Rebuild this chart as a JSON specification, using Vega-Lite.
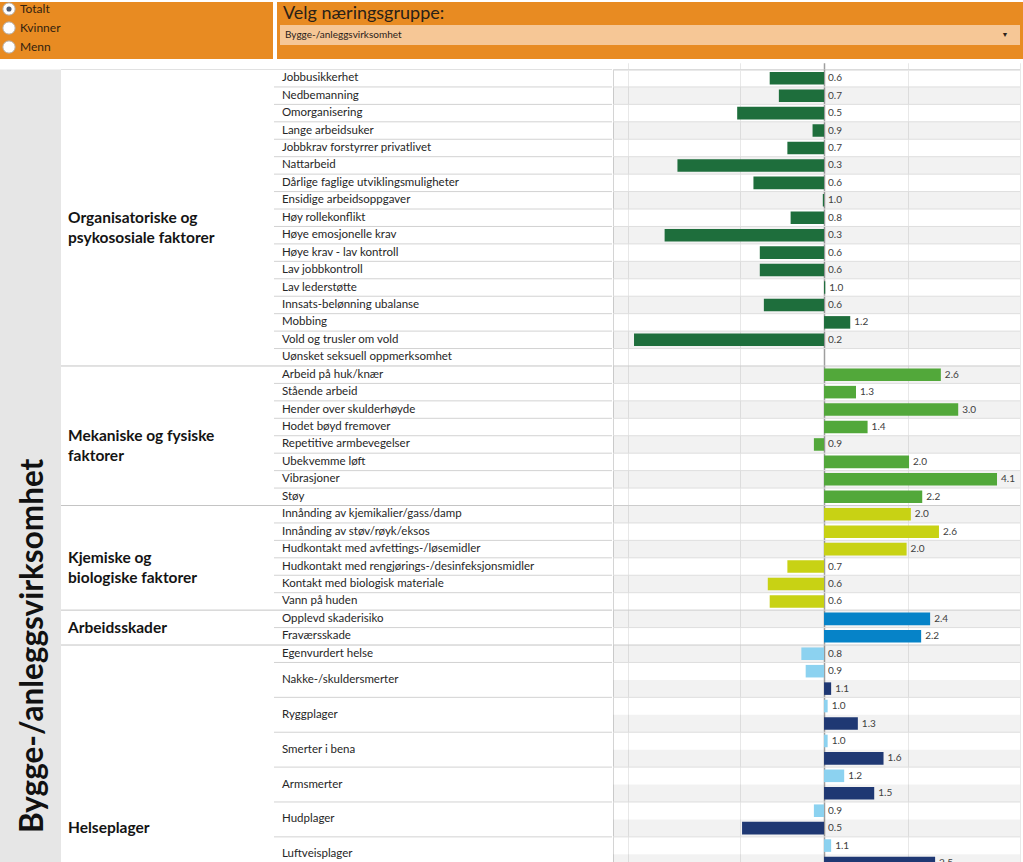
{
  "$schema": "https://vega.github.io/schema/vega-lite/v6.json",
  "padding": 0,
  "background": "#ffffff",
  "usermeta": {"embedOptions": {"actions": false}},
  "config": {"view": {"stroke": null}, "font": "Lato"},
  "spacing": 9.5,
  "vconcat": [
    {
      "spacing": 4,
      "hconcat": [
        {
          "width": 273,
          "height": 57,
          "view": {"fill": "#e88b22", "stroke": null},
          "data": {"values": [
            {"valg": "Totalt", "valgt": true},
            {"valg": "Kvinner", "valgt": false},
            {"valg": "Menn", "valgt": false}
          ]},
          "encoding": {
            "y": {"field": "valg", "type": "nominal", "sort": null, "axis": null, "scale": {"range": [-2.5, 54.5], "paddingInner": 0, "paddingOuter": 0}},
            "x": {"datum": 0, "type": "quantitative", "axis": null, "scale": {"domain": [0, 1], "range": [9, 260]}}
          },
          "layer": [
            {"mark": {"type": "point", "shape": "circle", "filled": true, "fill": "#ffffff", "stroke": "#b5b5b5", "strokeWidth": 1, "size": 150, "opacity": 1}},
            {"mark": {"type": "point", "shape": "circle", "filled": true, "fill": "#4b5a72", "size": 26, "strokeWidth": 0},
             "encoding": {"opacity": {"condition": {"test": "datum.valgt", "value": 1}, "value": 0}}},
            {"mark": {"type": "text", "align": "left", "baseline": "middle", "dx": 11, "fontSize": 12, "color": "#33220f"},
             "encoding": {"text": {"field": "valg"}}}
          ]
        },
        {
          "width": 746,
          "height": 57,
          "view": {"fill": "#e88b22", "stroke": null},
          "data": {"values": [
            {"rad": "tittel", "tekst": "Velg næringsgruppe:"},
            {"rad": "valg", "tekst": "Bygge-/anleggsvirksomhet"}
          ]},
          "encoding": {
            "y": {"field": "rad", "type": "nominal", "sort": null, "axis": null, "scale": {"range": [3, 43], "paddingInner": 0, "paddingOuter": 0}}
          },
          "layer": [
            {"mark": {"type": "rect", "fill": "#f6c796"},
             "encoding": {
               "x": {"datum": 0, "type": "quantitative", "axis": null, "scale": {"domain": [0, 1], "range": [3, 743]}},
               "x2": {"datum": 1},
               "fillOpacity": {"condition": {"test": "datum.rad == 'valg'", "value": 1}, "value": 0}
             }},
            {"mark": {"type": "text", "align": "left", "baseline": "middle", "dx": 3, "dy": -1, "fontSize": 18, "color": "#2a2118"},
             "encoding": {
               "x": {"datum": 0, "type": "quantitative"},
               "text": {"condition": {"test": "datum.rad == 'tittel'", "field": "tekst"}, "value": ""}
             }},
            {"mark": {"type": "text", "align": "left", "baseline": "middle", "dx": 5, "fontSize": 10, "color": "#2a2118"},
             "encoding": {
               "x": {"datum": 0, "type": "quantitative"},
               "text": {"condition": {"test": "datum.rad == 'valg'", "field": "tekst"}, "value": ""}
             }},
            {"mark": {"type": "text", "align": "center", "baseline": "middle", "dx": -15, "fontSize": 7, "color": "#2a2118"},
             "encoding": {
               "x": {"datum": 1, "type": "quantitative"},
               "text": {"condition": {"test": "datum.rad == 'valg'", "value": "▼"}, "value": ""}
             }}
          ]
        }
      ]
    },
    {
      "data": {"values": [
        {"gruppe": "Organisatoriske og\npsykososiale faktorer", "item": "Jobbusikkerhet", "v": 0.64},
        {"gruppe": "Organisatoriske og\npsykososiale faktorer", "item": "Nedbemanning", "v": 0.69},
        {"gruppe": "Organisatoriske og\npsykososiale faktorer", "item": "Omorganisering", "v": 0.49},
        {"gruppe": "Organisatoriske og\npsykososiale faktorer", "item": "Lange arbeidsuker", "v": 0.91},
        {"gruppe": "Organisatoriske og\npsykososiale faktorer", "item": "Jobbkrav forstyrrer privatlivet", "v": 0.74},
        {"gruppe": "Organisatoriske og\npsykososiale faktorer", "item": "Nattarbeid", "v": 0.30},
        {"gruppe": "Organisatoriske og\npsykososiale faktorer", "item": "Dårlige faglige utviklingsmuligheter", "v": 0.56},
        {"gruppe": "Organisatoriske og\npsykososiale faktorer", "item": "Ensidige arbeidsoppgaver", "v": 0.99},
        {"gruppe": "Organisatoriske og\npsykososiale faktorer", "item": "Høy rollekonflikt", "v": 0.76},
        {"gruppe": "Organisatoriske og\npsykososiale faktorer", "item": "Høye emosjonelle krav", "v": 0.27},
        {"gruppe": "Organisatoriske og\npsykososiale faktorer", "item": "Høye krav - lav kontroll", "v": 0.59},
        {"gruppe": "Organisatoriske og\npsykososiale faktorer", "item": "Lav jobbkontroll", "v": 0.59},
        {"gruppe": "Organisatoriske og\npsykososiale faktorer", "item": "Lav lederstøtte", "v": 1.01},
        {"gruppe": "Organisatoriske og\npsykososiale faktorer", "item": "Innsats-belønning ubalanse", "v": 0.61},
        {"gruppe": "Organisatoriske og\npsykososiale faktorer", "item": "Mobbing", "v": 1.24},
        {"gruppe": "Organisatoriske og\npsykososiale faktorer", "item": "Vold og trusler om vold", "v": 0.21},
        {"gruppe": "Organisatoriske og\npsykososiale faktorer", "item": "Uønsket seksuell oppmerksomhet", "v": null},
        {"gruppe": "Mekaniske og fysiske\nfaktorer", "item": "Arbeid på huk/knær", "v": 2.61},
        {"gruppe": "Mekaniske og fysiske\nfaktorer", "item": "Stående arbeid", "v": 1.30},
        {"gruppe": "Mekaniske og fysiske\nfaktorer", "item": "Hender over skulderhøyde", "v": 3.01},
        {"gruppe": "Mekaniske og fysiske\nfaktorer", "item": "Hodet bøyd fremover", "v": 1.43},
        {"gruppe": "Mekaniske og fysiske\nfaktorer", "item": "Repetitive armbevegelser", "v": 0.92},
        {"gruppe": "Mekaniske og fysiske\nfaktorer", "item": "Ubekvemme løft", "v": 2.01},
        {"gruppe": "Mekaniske og fysiske\nfaktorer", "item": "Vibrasjoner", "v": 4.14},
        {"gruppe": "Mekaniske og fysiske\nfaktorer", "item": "Støy", "v": 2.24},
        {"gruppe": "Kjemiske og\nbiologiske faktorer", "item": "Innånding av kjemikalier/gass/damp", "v": 2.04},
        {"gruppe": "Kjemiske og\nbiologiske faktorer", "item": "Innånding av støv/røyk/eksos", "v": 2.57},
        {"gruppe": "Kjemiske og\nbiologiske faktorer", "item": "Hudkontakt med avfettings-/løsemidler", "v": 1.97},
        {"gruppe": "Kjemiske og\nbiologiske faktorer", "item": "Hudkontakt med rengjørings-/desinfeksjonsmidler", "v": 0.74},
        {"gruppe": "Kjemiske og\nbiologiske faktorer", "item": "Kontakt med biologisk materiale", "v": 0.63},
        {"gruppe": "Kjemiske og\nbiologiske faktorer", "item": "Vann på huden", "v": 0.64},
        {"gruppe": "Arbeidsskader", "item": "Opplevd skaderisiko", "v": 2.39},
        {"gruppe": "Arbeidsskader", "item": "Fraværsskade", "v": 2.22},
        {"gruppe": "Helseplager", "item": "Egenvurdert helse", "niva": "1", "v": 0.83},
        {"gruppe": "Helseplager", "item": "Nakke-/skuldersmerter", "niva": "1", "v": 0.86},
        {"gruppe": "Helseplager", "item": "Nakke-/skuldersmerter", "niva": "2", "v": 1.06},
        {"gruppe": "Helseplager", "item": "Ryggplager", "niva": "1", "v": 1.03},
        {"gruppe": "Helseplager", "item": "Ryggplager", "niva": "2", "v": 1.32},
        {"gruppe": "Helseplager", "item": "Smerter i bena", "niva": "1", "v": 1.03},
        {"gruppe": "Helseplager", "item": "Smerter i bena", "niva": "2", "v": 1.63},
        {"gruppe": "Helseplager", "item": "Armsmerter", "niva": "1", "v": 1.18},
        {"gruppe": "Helseplager", "item": "Armsmerter", "niva": "2", "v": 1.51},
        {"gruppe": "Helseplager", "item": "Hudplager", "niva": "1", "v": 0.92},
        {"gruppe": "Helseplager", "item": "Hudplager", "niva": "2", "v": 0.51},
        {"gruppe": "Helseplager", "item": "Luftveisplager", "niva": "1", "v": 1.06},
        {"gruppe": "Helseplager", "item": "Luftveisplager", "niva": "2", "v": 2.49}
      ]},
      "transform": [
        {"calculate": "datum.item + '#' + (isValid(datum.niva) ? datum.niva : '')", "as": "rad"},
        {"calculate": "datum.gruppe == 'Helseplager' ? 'Helseplager ' + datum.niva : datum.gruppe", "as": "kat"},
        {"calculate": "isValid(datum.v) ? datum.v : 1", "as": "xv"},
        {"calculate": "isValid(datum.v) ? max(datum.v, 1) : 1", "as": "xl"},
        {"calculate": "isValid(datum.v) ? format(datum.v, '.1f') : ''", "as": "lbl"},
        {"window": [{"op": "row_number", "as": "nr"}]},
        {"window": [{"op": "row_number", "as": "iNr"}, {"op": "count", "as": "iN"}], "groupby": ["item"], "frame": [null, null]},
        {"window": [{"op": "row_number", "as": "gNr"}, {"op": "count", "as": "gN"}], "groupby": ["gruppe"], "frame": [null, null]}
      ],
      "spacing": 0,
      "resolve": {"scale": {"y": "shared"}},
      "hconcat": [
        {
          "width": 61,
          "height": 795.5,
          "view": {"fill": "#e6e6e6", "stroke": null},
          "mark": {"type": "text", "angle": 270, "align": "center", "baseline": "middle", "dy": 3, "fontSize": 31.5, "fontWeight": "bold", "color": "#111111", "clip": true},
          "encoding": {
            "y": {"field": "rad", "type": "nominal", "sort": null, "axis": null, "bandPosition": 0.05, "scale": {"range": [0, 802.24], "paddingInner": 0, "paddingOuter": 0}},
            "text": {"condition": {"test": "datum.rad == 'Egenvurdert helse#1'", "value": "Bygge-/anleggsvirksomhet"}, "value": ""}
          }
        },
        {
          "width": 213,
          "height": 795.5,
          "layer": [
            {"mark": {"type": "rule", "color": "#c4c4c4", "strokeWidth": 1, "clip": true},
             "encoding": {
               "y": {"field": "rad", "type": "nominal", "sort": null, "axis": null, "bandPosition": 0, "scale": {"range": [0, 802.24], "paddingInner": 0, "paddingOuter": 0}},
               "strokeOpacity": {"condition": {"test": "datum.gNr == 1", "value": 1}, "value": 0}
             }},
            {"mark": {"type": "text", "align": "left", "baseline": "middle", "fontSize": 15.5, "fontWeight": "bold", "lineHeight": 20, "lineBreak": "\n", "color": "#141414", "clip": true},
             "encoding": {
               "x": {"datum": 0, "type": "quantitative", "axis": null, "scale": {"domain": [0, 1], "range": [7, 200]}},
               "y": {"field": "rad", "type": "nominal", "sort": null, "axis": null, "bandPosition": 0.5},
               "text": {"condition": {"test": "datum.gruppe == 'Helseplager' ? datum.gNr == 11 : (datum.gN % 2 == 1 && datum.gNr == (datum.gN + 1) / 2)", "field": "gruppe"}, "value": ""}
             }},
            {"mark": {"type": "text", "align": "left", "baseline": "middle", "fontSize": 15.5, "fontWeight": "bold", "lineHeight": 20, "lineBreak": "\n", "color": "#141414", "clip": true},
             "encoding": {
               "x": {"datum": 0, "type": "quantitative"},
               "y": {"field": "rad", "type": "nominal", "sort": null, "axis": null, "bandPosition": 1},
               "text": {"condition": {"test": "datum.gruppe != 'Helseplager' && datum.gN % 2 == 0 && datum.gNr == datum.gN / 2", "field": "gruppe"}, "value": ""}
             }}
          ]
        },
        {
          "width": 338,
          "height": 795.5,
          "layer": [
            {"mark": {"type": "rule", "color": "#d2d2d2", "strokeWidth": 1, "clip": true},
             "encoding": {
               "y": {"field": "rad", "type": "nominal", "sort": null, "axis": null, "bandPosition": 0, "scale": {"range": [0, 802.24], "paddingInner": 0, "paddingOuter": 0}},
               "strokeOpacity": {"condition": {"test": "datum.iNr == 1 && datum.gNr != 1", "value": 1}, "value": 0}
             }},
            {"mark": {"type": "rule", "color": "#c4c4c4", "strokeWidth": 1, "clip": true},
             "encoding": {
               "y": {"field": "rad", "type": "nominal", "sort": null, "axis": null, "bandPosition": 0},
               "strokeOpacity": {"condition": {"test": "datum.gNr == 1", "value": 1}, "value": 0}
             }},
            {"mark": {"type": "text", "align": "left", "baseline": "middle", "fontSize": 11.5, "color": "#262626", "clip": true},
             "encoding": {
               "x": {"datum": 0, "type": "quantitative", "axis": null, "scale": {"domain": [0, 1], "range": [8, 330]}},
               "y": {"field": "rad", "type": "nominal", "sort": null, "axis": null, "bandPosition": 0.5},
               "text": {"condition": {"test": "datum.iNr == 1 && datum.iN == 1", "field": "item"}, "value": ""}
             }},
            {"mark": {"type": "text", "align": "left", "baseline": "middle", "fontSize": 11.5, "color": "#262626", "clip": true},
             "encoding": {
               "x": {"datum": 0, "type": "quantitative"},
               "y": {"field": "rad", "type": "nominal", "sort": null, "axis": null, "bandPosition": 1},
               "text": {"condition": {"test": "datum.iNr == 1 && datum.iN == 2", "field": "item"}, "value": ""}
             }}
          ]
        },
        {
          "width": 407,
          "height": 795.5,
          "view": {"stroke": "#d4d4d4"},
          "layer": [
            {"mark": {"type": "rect", "fill": "#000000", "clip": true},
             "encoding": {
               "y": {"field": "rad", "type": "nominal", "sort": null, "axis": null, "scale": {"range": [0, 802.24], "paddingInner": 0, "paddingOuter": 0}},
               "x": {"datum": 0.1767, "type": "quantitative"},
               "x2": {"datum": 5},
               "fillOpacity": {"condition": {"test": "datum.nr % 2 == 0", "value": 0.05}, "value": 0}
             }},
            {"mark": {"type": "rule", "color": "#dedede", "strokeWidth": 1, "clip": true},
             "encoding": {
               "y": {"field": "rad", "type": "nominal", "sort": null, "axis": null, "bandPosition": 0},
               "strokeOpacity": {"condition": {"test": "datum.iNr == 1 && datum.gNr != 1", "value": 1}, "value": 0}
             }},
            {"mark": {"type": "rule", "color": "#cccccc", "strokeWidth": 1, "clip": true},
             "encoding": {
               "y": {"field": "rad", "type": "nominal", "sort": null, "axis": null, "bandPosition": 0},
               "strokeOpacity": {"condition": {"test": "datum.gNr == 1", "value": 1}, "value": 0}
             }},
            {"mark": {"type": "bar", "height": {"band": 0.72}, "clip": true},
             "encoding": {
               "y": {"field": "rad", "type": "nominal", "sort": null, "axis": null},
               "x": {"field": "xv", "type": "quantitative",
                     "scale": {"type": "log", "domain": [0.1767, 5], "nice": false, "zero": false},
                     "axis": {"values": [0.2, 0.5, 1, 2, 5], "grid": true, "labels": false, "ticks": false, "domain": false, "title": null, "minExtent": 0, "maxExtent": 0, "offset": 0,
                              "gridColor": {"condition": {"test": "datum.value == 1", "value": "#9e9e9e"}, "value": "#e8e8e8"},
                              "gridWidth": {"condition": {"test": "datum.value == 1", "value": 1.5}, "value": 1}}},
               "x2": {"datum": 1},
               "color": {"field": "kat", "type": "nominal", "legend": null,
                         "scale": {"domain": ["Organisatoriske og\npsykososiale faktorer", "Mekaniske og fysiske\nfaktorer", "Kjemiske og\nbiologiske faktorer", "Arbeidsskader", "Helseplager 1", "Helseplager 2"],
                                   "range": ["#1e6e3c", "#52a83a", "#c8d214", "#0683c8", "#8cd2f0", "#1f3873"]}}
             }},
            {"mark": {"type": "text", "align": "left", "baseline": "middle", "dx": 4, "fontSize": 10, "color": "#404040", "clip": true},
             "encoding": {
               "y": {"field": "rad", "type": "nominal", "sort": null, "axis": null},
               "x": {"field": "xl", "type": "quantitative"},
               "text": {"field": "lbl", "type": "nominal"}
             }}
          ]
        }
      ]
    }
  ]
}
